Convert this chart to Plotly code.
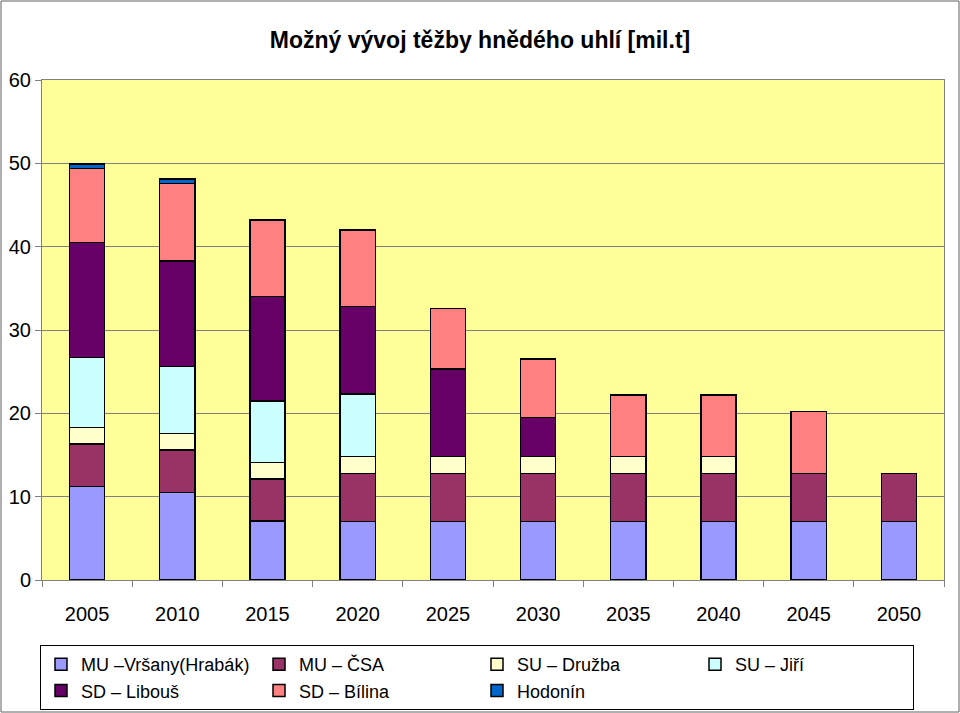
import plotly.graph_objects as go

years = ["2005", "2010", "2015", "2020", "2025", "2030", "2035", "2040", "2045", "2050"]
mu_vrsany = [11.2, 10.5, 7.1, 7.0, 7.0, 7.0, 7.0, 7.0, 7.0, 7.0]
mu_csa = [5.1, 5.1, 5.0, 5.8, 5.8, 5.8, 5.8, 5.8, 5.8, 5.8]
su_druzba = [2.0, 2.0, 2.0, 2.0, 2.0, 2.0, 2.0, 2.0, 0, 0]
su_jiri = [8.4, 8.0, 7.4, 7.5, 0, 0, 0, 0, 0, 0]
sd_libous = [13.8, 12.7, 12.5, 10.5, 10.5, 4.7, 0, 0, 0, 0]
sd_bilina = [8.9, 9.3, 9.2, 9.2, 7.3, 7.0, 7.4, 7.4, 7.4, 0]
hodonin = [0.5, 0.5, 0, 0, 0, 0, 0, 0, 0, 0]

series = [
    ("MU \u2013Vršany(Hrabák)", mu_vrsany, "#9999FF"),
    ("MU \u2013 ČSA", mu_csa, "#993366"),
    ("SU \u2013 Družba", su_druzba, "#FFFFCC"),
    ("SU \u2013 Jiří", su_jiri, "#CCFFFF"),
    ("SD \u2013 Libouš", sd_libous, "#660066"),
    ("SD \u2013 Bílina", sd_bilina, "#FF8080"),
    ("Hodonín", hodonin, "#0066CC"),
]

FONT = "Liberation Sans, Arial, sans-serif"

fig = go.Figure()
for name, vals, col in series:
    fig.add_trace(go.Bar(
        x=years, y=vals, name=name,
        marker=dict(color=col, line=dict(color="black", width=1.5)),
    ))

W, H = 960, 713
ml, mr, mt, mb = 42, 16, 80, 133
pw, ph = W - ml - mr, H - mt - mb

fig.update_layout(
    width=W, height=H,
    barmode="stack", bargap=0.61,
    paper_bgcolor="white", plot_bgcolor="#FFFF99",
    margin=dict(l=ml, r=mr, t=mt, b=mb, autoexpand=False),
    font=dict(family=FONT, color="black", size=18),
    title=dict(text="<b>Možný vývoj těžby hnědého uhlí [mil.t]</b>",
               x=0.5, xanchor="center", y=1 - 40 / H, yanchor="middle",
               font=dict(size=23, family=FONT)),
    xaxis=dict(type="category", tickson="boundaries", ticks="outside", ticklen=6,
               tickcolor="#808080", showline=True, linecolor="#808080", mirror=True,
               showgrid=False, ticklabelstandoff=16,
               tickfont=dict(size=20, family=FONT)),
    yaxis=dict(range=[0, 60], dtick=10, ticks="outside", ticklen=6, tickcolor="#808080",
               showline=True, linecolor="#808080", mirror=True,
               showgrid=True, gridcolor="#808080", gridwidth=1,
               tickfont=dict(size=20, family=FONT), zeroline=False),
    legend=dict(orientation="h", x=-2 / pw, xanchor="left", y=-65 / ph, yanchor="top",
                entrywidth=173, entrywidthmode="pixels", traceorder="normal",
                bordercolor="black", borderwidth=1, bgcolor="white",
                font=dict(size=18, family=FONT)),
    shapes=[dict(type="rect", xref="paper", yref="paper",
                 x0=-(ml - 1) / pw, x1=1 + (mr - 1) / pw,
                 y0=-(mb - 1) / ph, y1=1 + (mt - 1) / ph,
                 line=dict(color="#606060", width=1), fillcolor="rgba(0,0,0,0)", layer="below")],
)

fig.write_html("out.html", config={"displayModeBar": False},
               post_script="document.body.style.margin='0';document.body.style.overflow='hidden';")
